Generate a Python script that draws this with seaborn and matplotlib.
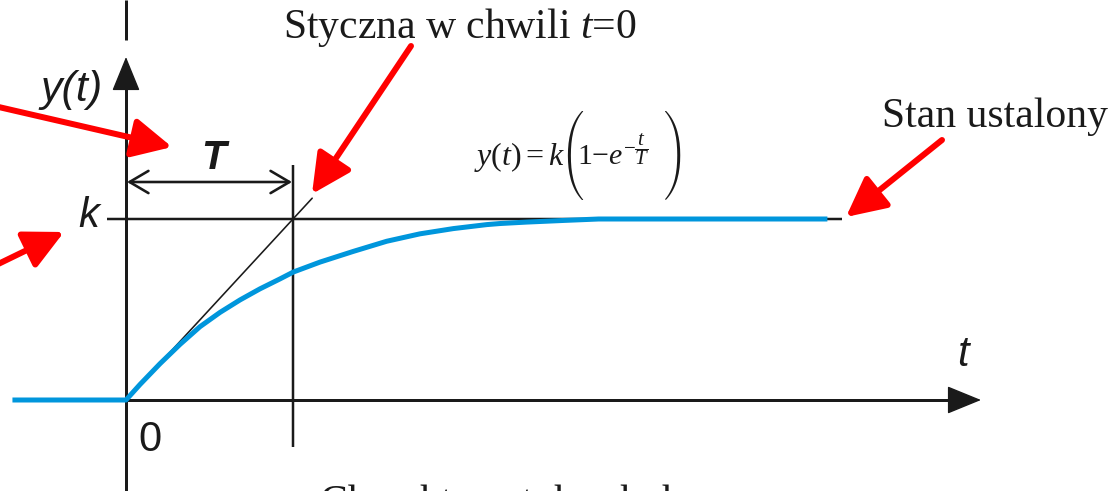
import matplotlib
matplotlib.use("Agg")
import matplotlib.pyplot as plt
import numpy as np
import pandas as pd
import seaborn as sns

# ---- data (time in units of T, output in units of k) ----
T = 1.0
k = 1.0
t_curve = [-0.68, 0.0, 0.084, 0.204, 0.323, 0.443, 0.563, 0.683, 0.802, 0.922,
           1.002, 1.162, 1.361, 1.561, 1.760, 1.960, 2.160, 2.240, 2.40, 2.62,
           2.83, 3.5, 4.2]
y_curve = [0.0, 0.0, 0.086, 0.201, 0.307, 0.405, 0.484, 0.553, 0.614, 0.669,
           0.707, 0.762, 0.821, 0.877, 0.918, 0.947, 0.969, 0.975, 0.983, 0.992,
           1.0, 1.0, 1.0]
tangent_t = [0.0, 1.115]
k_line_t = [-0.114, 4.29]
T_line_y = [-0.26, 1.30]

title_tangent = "Styczna w chwili $t$=0"
title_steady = "Stan ustalony"
formula_left = r"$y(t)=k$"
formula_mid = r"$1{-}e^{-\dfrac{t}{T}}$"
big_lparen = "\xc3"   # Bigg '(' glyph of cmex10
big_rparen = "\x21"   # Bigg ')' glyph of cmex10
bottom_title = "Charakterystyka skokowa"

sns.set_style("white")

W, H = 1119, 491
fig = plt.figure(figsize=(W / 100, H / 100), dpi=100)
ax = fig.add_axes([0, 0, 1, 1])

# pixel -> data helpers (origin at pixel (126,400), T = 167 px, k = 181 px)
def X(px):
    return (px - 126) / 167.0

def Y(py):
    return (400 - py) / 181.0

ax.set_xlim(X(0), X(W))
ax.set_ylim(Y(H), Y(0))
ax.axis("off")

BLACK = "#1a1a1a"
BLUE = "#0096DC"
RED = "#FF0000"
PT = 72 / 100.0  # points per pixel

# k level line and T vertical line
ax.plot(k_line_t, [k, k], color=BLACK, lw=2.5 * PT, solid_capstyle="butt")
ax.plot([T, T], T_line_y, color=BLACK, lw=2.5 * PT, solid_capstyle="butt")

# tangent at t=0
tan_df = pd.DataFrame({"t": tangent_t, "y": [k * v / T for v in tangent_t]})
sns.lineplot(data=tan_df, x="t", y="y", ax=ax, color=BLACK, lw=1.6 * PT)

# axes with arrows
ax.plot([0, 0], [Y(H + 5), Y(88)], color=BLACK, lw=3 * PT, solid_capstyle="butt")
ax.plot([0, 0], [Y(0), Y(40)], color=BLACK, lw=3 * PT, solid_capstyle="butt")
ax.plot([X(126), X(955)], [0, 0], color=BLACK, lw=3 * PT, solid_capstyle="butt")
arrow_axis = dict(arrowstyle="-|>,head_length=1.1,head_width=0.45", color=BLACK,
                  lw=1.0, mutation_scale=20, shrinkA=0, shrinkB=0)
ax.annotate("", xy=(0, Y(57)), xytext=(0, Y(95)), arrowprops=arrow_axis)
ax.annotate("", xy=(X(981), 0), xytext=(X(945), 0), arrowprops=arrow_axis)

# step response curve
curve_df = pd.DataFrame({"t": t_curve, "y": y_curve})
sns.lineplot(data=curve_df, x="t", y="y", ax=ax, color=BLUE, lw=5 * PT,
             sort=False, estimator=None)
ax.lines[-1].set_solid_capstyle("butt")
ax.lines[-1].set_solid_joinstyle("round")

# T dimension arrow
ax.annotate("", xy=(X(292), Y(182)), xytext=(X(127), Y(182)),
            arrowprops=dict(arrowstyle="<->,head_length=0.68,head_width=0.4",
                            color=BLACK, lw=2.6 * PT, mutation_scale=20,
                            shrinkA=0, shrinkB=0))

# red pointer arrows
red = dict(arrowstyle="-|>,head_length=1.2,head_width=0.6", color=RED,
           lw=6 * PT, mutation_scale=20, shrinkA=0, shrinkB=0)
ax.annotate("", xy=(X(172), Y(147)), xytext=(X(-10), Y(105)), arrowprops=red)
ax.annotate("", xy=(X(64), Y(232)), xytext=(X(-10), Y(268)), arrowprops=red)
ax.annotate("", xy=(X(312), Y(194)), xytext=(X(411), Y(46)), arrowprops=red)
ax.annotate("", xy=(X(846), Y(217)), xytext=(X(942), Y(140)), arrowprops=red)

# labels (sans italic)
sans = "Liberation Sans"
ax.text(X(72), Y(90), "y(t)", family=sans, style="italic",
        fontsize=31, ha="center", va="center", color=BLACK)
ax.text(X(89), Y(216), "k", family=sans, style="italic", fontsize=30,
        ha="center", va="center", color=BLACK)
ax.text(X(150), Y(440), "0", family=sans, fontsize=30, ha="center",
        va="center", color=BLACK)
ax.text(X(963), Y(355), "t", family=sans, style="italic", fontsize=30,
        ha="center", va="center", color=BLACK)
ax.text(X(213), Y(158), "T", family=sans, style="italic", weight="bold",
        fontsize=29, ha="center", va="center", color=BLACK)

# serif texts (Times-like)
serif = "Liberation Serif"
plt.rcParams["mathtext.fontset"] = "custom"
plt.rcParams["mathtext.it"] = "Liberation Serif:italic"
plt.rcParams["mathtext.rm"] = "Liberation Serif"
ax.text(X(460), Y(38), title_tangent, family=serif, fontsize=30,
        ha="center", va="baseline", color=BLACK)
ax.text(X(995), Y(127), title_steady, family=serif, fontsize=30,
        ha="center", va="baseline", color=BLACK)
ax.text(X(320), Y(514), bottom_title, family=serif, fontsize=30,
        ha="left", va="baseline", color=BLACK)

# formula y(t) = k(1 - e^{-t/T}) with tall thin brackets
ax.text(X(474), Y(165), formula_left, family=serif, fontsize=23, ha="left",
        va="baseline", color=BLACK)
ax.text(X(577), Y(165), formula_mid, family=serif, fontsize=21.5, ha="left",
        va="baseline", color=BLACK)
ax.text(X(572), Y(155), big_lparen, family="cmex10", fontsize=21,
        ha="center", va="center", color=BLACK)
ax.text(X(675), Y(155), big_rparen, family="cmex10", fontsize=21,
        ha="center", va="center", color=BLACK)

fig.savefig("out.png", dpi=100)
